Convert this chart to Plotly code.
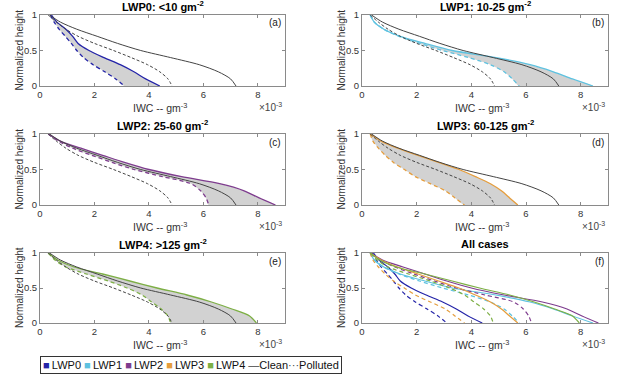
import plotly.graph_objects as go

W, H = 620, 380

# ---------------- data ----------------
h = [1.0, 0.9, 0.8, 0.7, 0.6, 0.5, 0.4, 0.3, 0.2, 0.1, 0.0]

all_clean = [0.35, 0.75, 1.35, 2.1, 2.85, 3.7, 4.8, 5.85, 6.55, 7.0, 7.2]
all_polluted = [0.3, 0.6, 0.95, 1.4, 2.0, 2.7, 3.35, 3.95, 4.4, 4.7, 4.85]

lwp0_clean = [0.42, 0.62, 0.95, 1.2, 1.4, 1.8, 2.35, 2.95, 3.45, 3.88, 4.4]
lwp0_polluted = [0.38, 0.52, 0.7, 0.93, 1.15, 1.35, 1.6, 1.95, 2.38, 2.78, 3.1]

lwp1_clean = [0.3, 0.45, 0.8, 1.4, 2.3, 3.3, 4.9, 6.15, 7.0, 7.7, 8.45]
lwp1_polluted = [0.3, 0.45, 0.8, 1.35, 2.1, 2.95, 3.9, 4.7, 5.2, 5.5, 5.75]

lwp2_clean = [0.3, 0.75, 1.5, 2.3, 3.1, 4.0, 5.2, 6.6, 7.5, 8.05, 8.65]
lwp2_polluted = [0.3, 0.68, 1.2, 1.9, 2.65, 3.45, 4.5, 5.55, 5.9, 6.1, 6.2]

lwp3_clean = [0.3, 0.7, 1.3, 2.05, 2.8, 3.55, 4.15, 4.7, 5.1, 5.4, 5.7]
lwp3_polluted = [0.3, 0.4, 0.6, 0.85, 1.15, 1.55, 1.95, 2.5, 3.05, 3.4, 3.75]

lwp4_clean = [0.3, 0.65, 1.25, 2.3, 3.3, 4.3, 5.4, 6.3, 7.05, 7.7, 7.95]
lwp4_polluted = [0.3, 0.55, 0.95, 1.7, 2.5, 3.2, 3.75, 4.1, 4.45, 4.7, 4.8]

classes = ["LWP0", "LWP1", "LWP2", "LWP3", "LWP4"]
titles = ["LWP0: &lt;10 gm<sup>-2</sup>", "LWP1: 10-25 gm<sup>-2</sup>",
          "LWP2: 25-60 gm<sup>-2</sup>", "LWP3: 60-125 gm<sup>-2</sup>",
          "LWP4: &gt;125 gm<sup>-2</sup>", "All cases"]
panel_tags = ["(a)", "(b)", "(c)", "(d)", "(e)", "(f)"]
clean_sets = [lwp0_clean, lwp1_clean, lwp2_clean, lwp3_clean, lwp4_clean]
poll_sets = [lwp0_polluted, lwp1_polluted, lwp2_polluted, lwp3_polluted, lwp4_polluted]
colors = ["#2424A8", "#5EC2E0", "#7E3C8E", "#E59D3C", "#7DAF45"]
x_ticks = [0, 2, 4, 6, 8]
y_ticks = [0, 0.5, 1]

# ---------------- layout geometry (pixels) ----------------
cols_px = [(40, 285), (362, 608)]
rows_px = [(15, 86), (134, 205), (253, 323)]


def px_x(p):
    return p / W


def px_y(p):
    return (H - p) / H


fig = go.Figure()
annotations = []
layout_axes = {}
FONT = "Liberation Sans, Arial, sans-serif"
AX_COLOR = "#8a8a8a"

for i in range(6):
    r, c = divmod(i, 2)
    x0, x1 = cols_px[c]
    top, bot = rows_px[r]
    n = i + 1
    xa = "x" if n == 1 else f"x{n}"
    ya = "y" if n == 1 else f"y{n}"
    xkey = "xaxis" if n == 1 else f"xaxis{n}"
    ykey = "yaxis" if n == 1 else f"yaxis{n}"
    common = dict(showline=True, linecolor=AX_COLOR, linewidth=1, mirror="ticks",
                  ticks="inside", ticklen=3, tickcolor=AX_COLOR, showgrid=False,
                  zeroline=False, automargin=False,
                  tickfont=dict(family=FONT, size=9.5, color="#333"))
    layout_axes[xkey] = dict(domain=[px_x(x0), px_x(x1)], range=[0, 9], anchor=ya,
                             tickvals=x_ticks, ticktext=[str(v) for v in x_ticks], **common)
    layout_axes[ykey] = dict(domain=[px_y(bot), px_y(top)], range=[0, 1], anchor=xa,
                             tickvals=y_ticks, ticktext=["0", "0.5", "1"], **common)

    if i < 5:
        cl, po, col = clean_sets[i], poll_sets[i], colors[i]
        # shaded band between clean and polluted
        fig.add_trace(go.Scatter(x=cl + po[::-1], y=h + h[::-1], fill="toself",
                                 fillcolor="rgba(165,165,165,0.5)", mode="lines",
                                 line=dict(width=0, shape="spline", smoothing=0.6),
                                 xaxis=xa, yaxis=ya, showlegend=False, hoverinfo="skip"))
        fig.add_trace(go.Scatter(x=cl, y=h, mode="lines",
                                 line=dict(color=col, width=1.3, shape="spline", smoothing=0.8),
                                 xaxis=xa, yaxis=ya, showlegend=False))
        fig.add_trace(go.Scatter(x=po, y=h, mode="lines",
                                 line=dict(color=col, width=1.3, dash="4px,3px", shape="spline", smoothing=0.8),
                                 xaxis=xa, yaxis=ya, showlegend=False))
        fig.add_trace(go.Scatter(x=all_clean, y=h, mode="lines",
                                 line=dict(color="#444", width=1, shape="spline", smoothing=0.8),
                                 xaxis=xa, yaxis=ya, showlegend=False))
        fig.add_trace(go.Scatter(x=all_polluted, y=h, mode="lines",
                                 line=dict(color="#444", width=1, dash="3px,2px", shape="spline", smoothing=0.8),
                                 xaxis=xa, yaxis=ya, showlegend=False))
    else:
        for cl, po, col in zip(clean_sets, poll_sets, colors):
            fig.add_trace(go.Scatter(x=po, y=h, mode="lines",
                                     line=dict(color=col, width=1.2, dash="4px,3px", shape="spline", smoothing=0.8),
                                     xaxis=xa, yaxis=ya, showlegend=False))
            fig.add_trace(go.Scatter(x=cl, y=h, mode="lines",
                                     line=dict(color=col, width=1.2, shape="spline", smoothing=0.8),
                                     xaxis=xa, yaxis=ya, showlegend=False))

    mid = (x0 + x1) / 2
    # title
    annotations.append(dict(text=f"<b>{titles[i]}</b>", x=px_x(mid), y=px_y(top - 9),
                            xref="paper", yref="paper", xanchor="center", yanchor="middle",
                            showarrow=False, font=dict(family=FONT, size=11, color="#000")))
    # panel tag
    annotations.append(dict(text=panel_tags[i], x=px_x(x1 - 2), y=px_y(top + 8),
                            xref="paper", yref="paper", xanchor="right", yanchor="middle",
                            showarrow=False, font=dict(family=FONT, size=10, color="#222")))
    # x label
    annotations.append(dict(text="IWC -- gm<sup>-3</sup>", x=px_x(mid - 3), y=px_y(bot + 21),
                            xref="paper", yref="paper", xanchor="center", yanchor="middle",
                            showarrow=False, font=dict(family=FONT, size=10.5, color="#333")))
    # exponent
    annotations.append(dict(text="×10<sup>-3</sup>", x=px_x(x1 - 1), y=px_y(bot + 21),
                            xref="paper", yref="paper", xanchor="right", yanchor="middle",
                            showarrow=False, font=dict(family=FONT, size=10, color="#444")))
    # y label
    annotations.append(dict(text="Normalized height", x=px_x(x0 - 21), y=px_y((top + bot) / 2),
                            xref="paper", yref="paper", xanchor="center", yanchor="middle",
                            textangle=-90, showarrow=False,
                            font=dict(family=FONT, size=10, color="#333")))

# legend box built from the class list and colours
parts = [f'<span style="color:{col}">■</span>\u2009{name}' for name, col in zip(classes, colors)]
legend_text = " ".join(parts) + ' <span style="color:#444">—</span>Clean<span style="color:#444">···</span>Polluted'
annotations.append(dict(text=legend_text, x=px_x(40), y=px_y(365), xref="paper", yref="paper",
                        xanchor="left", yanchor="middle", showarrow=False,
                        bordercolor="#333", borderwidth=1, borderpad=2, bgcolor="white",
                        font=dict(family=FONT, size=11, color="#111")))

fig.update_layout(width=W, height=H, margin=dict(l=0, r=0, t=0, b=0, pad=0),
                  autosize=False, plot_bgcolor="white", paper_bgcolor="white",
                  annotations=annotations, showlegend=False, **layout_axes)

fig.write_html("out.html", config={"displayModeBar": False},
               post_script="document.body.style.margin='0';document.body.style.padding='0';")
